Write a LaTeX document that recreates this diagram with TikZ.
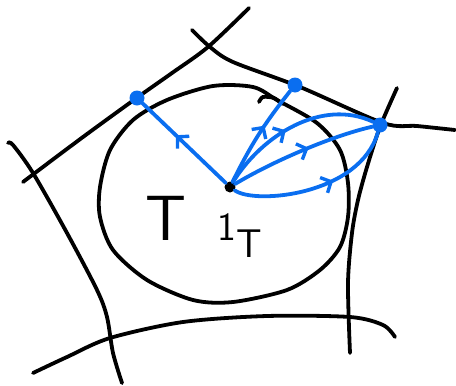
\documentclass[tikz,border=0pt]{standalone}
\usepackage{fontspec}
\usepackage{tikz}
\usetikzlibrary{decorations.markings}
\usepgflibrary{arrows.meta}
\definecolor{penblue}{RGB}{10,110,240}

\begin{document}
\begin{tikzpicture}
    [x=1pt, y=-1pt,
    ->-/.style={penblue, line width=3.8pt, line cap=round, decoration={markings, mark=at position #1 with {\arrow{Straight Barb[length=8pt, width=17pt, line width=3.4pt]}}},postaction={decorate}},
    ->-/.default=0.6,
    wall/.style={line width=3.8pt, line cap=round},
    vertex/.style={inner sep=0pt, circle, fill=penblue, minimum size=15pt},
    unit/.style={inner sep=0pt, circle, fill=black, minimum size=11pt}]
        \useasboundingbox (0,0) rectangle (456,386);
        %% walls of the cell
        \draw[wall] plot[smooth] coordinates {(249,8) (208,47) (172,73) (138,97) (83,137) (23,182)};
        \draw[wall] plot[smooth] coordinates {(192,30) (210,47) (233,62) (300,87) (383,123) (417,126) (455,130)};
        \draw[wall] plot[smooth] coordinates {(397,88) (380,127) (367,167) (358,200) (352,233) (348,283) (350,353)};
        \draw[wall] plot[smooth] coordinates {(8,143) (13,145) (33,173) (67,233) (97,290) (107,317) (113,353) (122,383)};
        \draw[wall] plot[smooth] coordinates {(33,373) (67,357) (110,338) (183,322) (267,316) (350,317) (383,325) (395,337)};
        %% the torus T
        \draw[wall] plot[smooth cycle] coordinates {(167,100) (213,86) (253,87) (277,100) (317,123) (340,150) (348,183)
            (348,217) (340,247) (320,270) (287,290) (233,302) (193,300) (147,280) (113,250) (100,217) (100,187)
            (110,150) (133,120)};
        \draw[wall] plot[smooth] coordinates {(259,102) (263,97) (274,98) (282,104)};
        \node[font=\sffamily\fontsize{64}{64}\selectfont] (T) at (166,218) {T};
        \node[font=\sffamily\fontsize{40}{40}\selectfont, anchor=base west] (one) at (214,240) {1\raisebox{-17pt}{T}};

        %% vertices
        \node[unit] (O) at (230,187) {};
        \node[vertex] (A) at (137,98) {};
        \node[vertex] (B) at (295,85) {};
        \node[vertex] (C) at (380,125) {};

        \draw[->-] (O) to (A);
        \draw[->-] (O) to[bend left=6] (B);
        \draw[->-=0.45] (O) .. controls (262,135) and (322,98) .. (C);
        \draw[->-=0.55] (O) .. controls (275,160) and (335,135) .. (C);
        \draw[->-] (O) .. controls (255,205) and (360,195) .. (C);
    \end{tikzpicture}
\end{document}
